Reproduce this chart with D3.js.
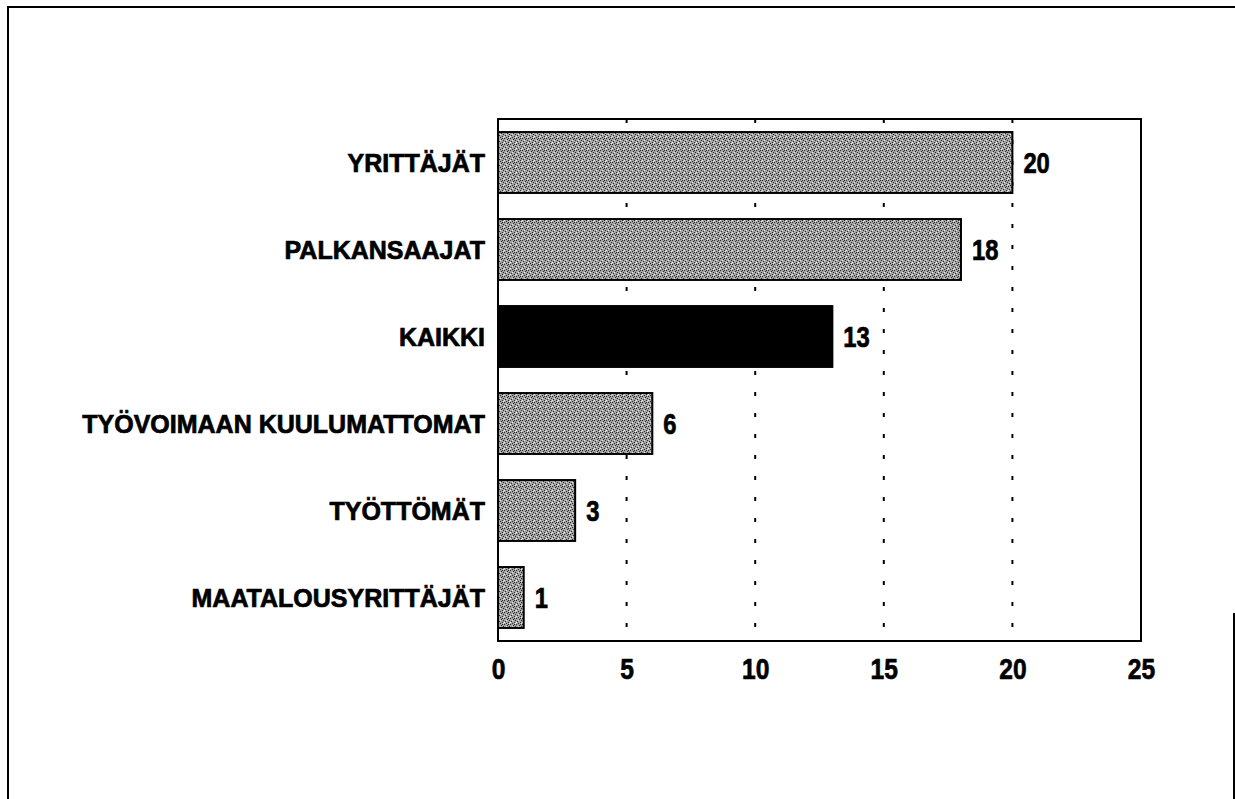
<!DOCTYPE html>
<html><head><meta charset="utf-8">
<script src="https://cdn.jsdelivr.net/npm/d3@7"></script>
<style>
html,body{margin:0;padding:0;background:#fff;}
text{font-family:"Liberation Sans Narrow","Arial Narrow","Liberation Sans",Arial,sans-serif;font-weight:bold;fill:#000;stroke:#000;stroke-width:0.7px;}
</style></head>
<body>
<script>
const categories = ["YRITTÄJÄT","PALKANSAAJAT","KAIKKI","TYÖVOIMAAN KUULUMATTOMAT","TYÖTTÖMÄT","MAATALOUSYRITTÄJÄT"];
const values = [20, 18, 13, 6, 3, 1];
const highlight = ["KAIKKI"];
const tickValues = [0, 5, 10, 15, 20, 25];
const gridValues = [5, 10, 15, 20];

(function(){
const W = 1235, H = 799;
const svg = d3.select("body").append("svg").attr("width", W).attr("height", H);

const defs = svg.append("defs");
const pat = defs.append("pattern").attr("id","stip").attr("patternUnits","userSpaceOnUse")
  .attr("width",6).attr("height",6);
pat.append("rect").attr("width",6).attr("height",6).attr("fill","#a4a4a4");
[[0,0],[3,1],[1,3],[4,4],[2,5],[5,2],[4,0]].forEach(([px,py])=>pat.append("rect").attr("x",px).attr("y",py).attr("width",1).attr("height",1).attr("fill","#2a2a2a"));
[[2,2],[5,5],[0,4]].forEach(([px,py])=>pat.append("rect").attr("x",px).attr("y",py).attr("width",1).attr("height",1).attr("fill","#eee"));

svg.append("path").attr("d","M8,799 L8,7 L1235,7").attr("fill","none").attr("stroke","#000").attr("stroke-width",2);
svg.append("line").attr("x1",1234).attr("x2",1234).attr("y1",613).attr("y2",799).attr("stroke","#000").attr("stroke-width",2);

const pLeft = 498, pRight = 1141, pTop = 119, pBottom = 641;
const x = d3.scaleLinear().domain([0,25]).range([pLeft,pRight]);
const y = d3.scaleBand().domain(categories).range([pTop,pBottom]).paddingInner(0.3).paddingOuter(0.15);

svg.append("g").selectAll("line").data(gridValues).join("line")
  .attr("x1",d=>x(d)).attr("x2",d=>x(d)).attr("y1",pTop).attr("y2",pBottom)
  .attr("stroke","#000").attr("stroke-width",2).attr("stroke-dasharray","4,17");

svg.append("rect").attr("x",pLeft).attr("y",pTop).attr("width",pRight-pLeft).attr("height",pBottom-pTop)
  .attr("fill","none").attr("stroke","#000").attr("stroke-width",2);

const data = categories.map((c,i)=>({c, v: values[i]}));
svg.append("g").selectAll("rect").data(data).join("rect")
  .attr("x",x(0)).attr("y",d=>y(d.c)).attr("width",d=>x(d.v)-x(0)).attr("height",y.bandwidth())
  .attr("fill",d=>highlight.includes(d.c)?"#000":"url(#stip)")
  .attr("stroke","#000").attr("stroke-width",2);

// value labels (condensed)
svg.append("g").selectAll("text").data(data).join("text")
  .attr("transform",d=>`translate(${x(d.v)+11},${y(d.c)+y.bandwidth()/2}) scale(0.82,1)`)
  .attr("dy","0.36em").attr("font-size",29).text(d=>d.v);

svg.append("g").selectAll("text").data(data).join("text")
  .attr("x",pLeft-13).attr("y",d=>y(d.c)+y.bandwidth()/2)
  .attr("dy","0.36em").attr("text-anchor","end").attr("font-size",25).text(d=>d.c);

const xAxis = d3.axisBottom(x).tickValues(tickValues).tickSize(0).tickPadding(17).tickFormat(d3.format("d"));
const gx = svg.append("g").attr("transform",`translate(0,${pBottom})`).call(xAxis);
gx.select(".domain").remove();
gx.attr("font-family",null).attr("font-size",null);
gx.selectAll("text").attr("font-size",30).attr("fill","#000").attr("transform","scale(0.82,1)");
})();
</script>
</body></html>
